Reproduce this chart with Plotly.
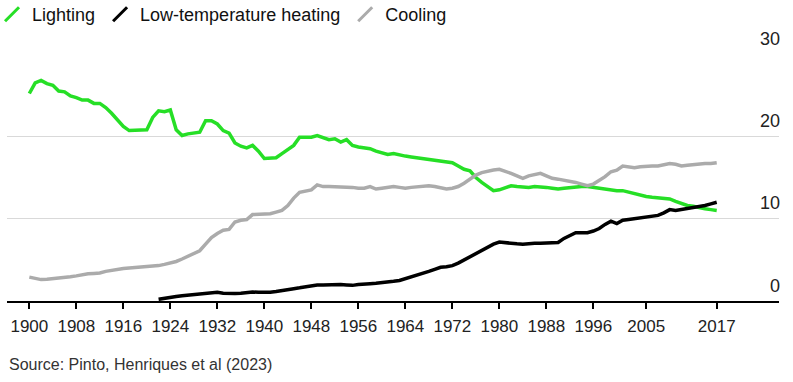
import plotly.graph_objects as go

years_lighting = list(range(1900, 2018))
lighting = [
    25.2, 26.5, 26.8, 26.4, 26.2, 25.5, 25.4, 24.9, 24.7, 24.4,
    24.4, 24.0, 24.0, 23.5, 22.8, 22.0, 21.2, 20.7, 20.7, 20.8,
    20.8, 22.3, 23.1, 23.0, 23.2, 20.8, 20.1, 20.3, 20.4, 20.5,
    21.9, 21.9, 21.5, 20.7, 20.4, 19.2, 18.8, 18.6, 18.9, 18.2,
    17.3, 17.3, 17.4, 17.9, 18.4, 18.9, 19.9, 19.9, 19.9, 20.1,
    19.9, 19.6, 19.7, 19.3, 19.6, 18.9, 18.7, 18.6, 18.5, 18.2,
    18.0, 17.8, 17.9, 17.7, 17.6, 17.5, 17.4, 17.3, 17.2, 17.0,
    16.9, 16.8, 16.8, 16.4, 16.0, 15.8, 15.0, 14.4, 13.9, 13.4,
    13.5, 13.7, 14.0, 13.9, 13.8, 13.8, 13.9, 13.9, 13.8, 13.7,
    13.6, 13.7, 13.8, 13.8, 13.9, 13.9, 13.8, 13.6, 13.5, 13.4,
    13.4, 13.4, 13.2, 13.0, 12.9, 12.7, 12.6, 12.5, 12.5, 12.4,
    12.1, 11.8, 11.6, 11.5, 11.3, 11.2, 11.1, 11.0,
]

years_cooling = list(range(1900, 2018))
cooling = [
    2.9, 2.75, 2.6, 2.65, 2.7, 2.8, 2.85, 2.95, 3.05, 3.2,
    3.3, 3.35, 3.4, 3.6, 3.75, 3.9, 3.95, 4.0, 4.05, 4.05,
    4.1, 4.2, 4.3, 4.45, 4.6, 4.8, 5.1, 5.4, 5.7, 6.1,
    6.9, 7.7, 8.2, 8.6, 8.7, 9.6, 9.8, 9.9, 10.5, 10.5,
    10.5, 10.6, 10.8, 11.0, 11.6, 12.5, 13.2, 13.4, 13.5, 14.1,
    13.9, 13.9, 13.9, 13.9, 13.9, 13.8, 13.7, 13.7, 13.9, 13.6,
    13.7, 13.8, 13.9, 13.8, 13.7, 13.8, 13.9, 14.0, 14.0, 13.9,
    13.8, 13.6, 13.7, 13.9, 14.3, 14.8, 15.3, 15.6, 15.8, 15.9,
    16.0, 15.8, 15.5, 15.2, 14.9, 15.2, 15.4, 15.5, 15.2, 14.9,
    14.8, 14.7, 14.6, 14.4, 14.2, 14.0, 14.2, 14.6, 15.1, 15.7,
    15.9, 16.4, 16.3, 16.2, 16.3, 16.4, 16.4, 16.4, 16.5, 16.7,
    16.6, 16.4, 16.5, 16.6, 16.6, 16.7, 16.7, 16.8,
]

years_heating = list(range(1922, 2018))
heating = [
    0.2, 0.35, 0.5, 0.55, 0.65, 0.7, 0.75, 0.8,
    0.9, 1.0, 1.05, 0.95, 0.9, 0.9, 0.95, 1.05, 1.1, 1.05,
    1.0, 1.05, 1.15, 1.3, 1.4, 1.5, 1.6, 1.75, 1.9, 1.95,
    1.95, 2.0, 2.0, 2.0, 1.95, 1.9, 2.0, 2.1, 2.1, 2.15,
    2.2, 2.3, 2.4, 2.5, 2.7, 2.9, 3.15, 3.35, 3.6, 3.85,
    4.1, 4.15, 4.3, 4.6, 5.0, 5.4, 5.7, 6.1, 6.6, 6.9,
    7.15, 7.05, 7.0, 6.95, 6.9, 7.0, 7.0, 7.0, 7.0, 7.05,
    7.1, 7.6, 8.0, 8.3, 8.3, 8.3, 8.5, 8.8, 9.3, 9.7,
    9.4, 9.8, 9.9, 10.0, 10.1, 10.2, 10.3, 10.4, 10.7, 11.1,
    11.0, 11.1, 11.2, 11.3, 11.4, 11.6, 11.8, 12.0,
]

x_tick_years = [1900, 1908, 1916, 1924, 1932, 1940, 1948, 1956, 1964,
                1972, 1980, 1988, 1996, 2005, 2017]
y_ticks = [0, 10, 20, 30]

GREEN = "#26df26"
BLACK = "#000000"
GRAY = "#ababab"
FONT = "Liberation Sans, Arial, sans-serif"

series = [
    ("Lighting", years_lighting, lighting, GREEN),
    ("Low-temperature heating", years_heating, heating, BLACK),
    ("Cooling", years_cooling, cooling, GRAY),
]

fig = go.Figure()
for name, xs, ys, color in series:
    fig.add_trace(go.Scatter(
        x=xs, y=ys, mode="lines", name=name, showlegend=False,
        line=dict(color=color, width=3.5, shape="linear"),
        hoverinfo="skip",
    ))
# legend entries with slanted line icons
for name, xs, ys, color in series:
    fig.add_trace(go.Scatter(
        x=[None], y=[None], mode="markers", name=name, showlegend=True,
        marker=dict(symbol="line-ne", size=14, color=color,
                    line=dict(color=color, width=3)),
    ))

fig.update_layout(
    width=793, height=382,
    margin=dict(l=7, r=14, t=54, b=81, autoexpand=False),
    paper_bgcolor="white", plot_bgcolor="white",
    font=dict(family=FONT, size=17, color="#222222"),
    showlegend=True,
    legend=dict(
        orientation="h", x=-0.0194, y=1.2348, xref="paper", yref="paper",
        xanchor="left", yanchor="top",
        font=dict(size=18, color="#111111"),
        itemwidth=30, tracegroupgap=0,
        bgcolor="rgba(0,0,0,0)",
    ),
    xaxis=dict(
        range=[1896.2, 2027.6],
        tickmode="array", tickvals=x_tick_years,
        ticktext=[str(v) for v in x_tick_years],
        ticks="outside", ticklen=6, tickwidth=1.5, tickcolor="black",
        showline=True, linecolor="black", linewidth=1.5,
        showgrid=False, zeroline=False,
        ticklabelstandoff=3,
        tickfont=dict(size=17, color="#222222"),
    ),
    yaxis=dict(
        range=[0, 30], side="right",
        tickmode="array", tickvals=y_ticks,
        ticklabelposition="inside top", ticklabeloverflow="allow",
        ticklabelshift=-3, ticklabelstandoff=-4,
        showgrid=True, gridcolor="#d9d9d9", gridwidth=1,
        zeroline=False, showline=False, ticks="",
        tickfont=dict(size=18, color="#222222"),
    ),
    annotations=[dict(
        text="Source: Pinto, Henriques et al (2023)",
        xref="paper", yref="paper", x=0, y=-0.259,
        xanchor="left", yanchor="middle", showarrow=False,
        font=dict(size=16, color="#333333"),
    )],
)

fig.write_html(
    "out.html",
    config={"displayModeBar": False},
    post_script="document.body.style.margin='0';",
)
